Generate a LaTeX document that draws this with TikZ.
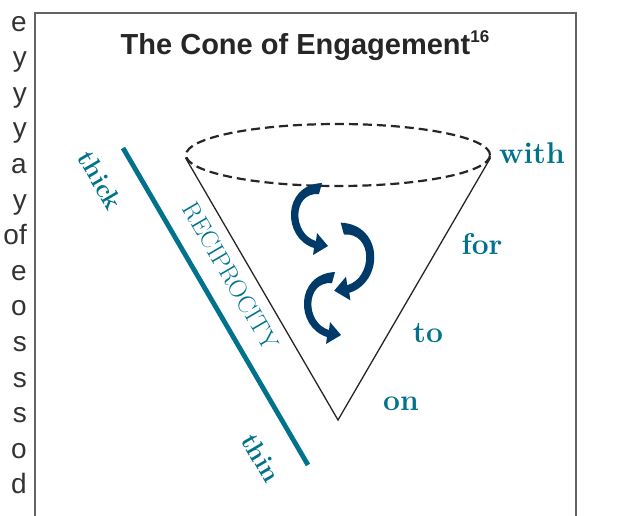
\documentclass[tikz,border=0pt]{standalone}
\usepackage{fontspec}
\newfontfamily\arialfont{Liberation Sans}
\usetikzlibrary{shapes.geometric}

\definecolor{recipteal}{RGB}{0,114,140}
\definecolor{swooshblue}{RGB}{0,58,105}
\definecolor{framegray}{RGB}{100,100,100}

\tikzset{
  rungtext/.style={text=recipteal, inner sep=0pt, font=\fontsize{30}{31}\selectfont\bfseries},
  scalelabel/.style={text=recipteal, inner sep=0pt, rotate=-59.7, font=\fontsize{26}{27}\selectfont\bfseries},
  fragment/.style={text=black!80, inner sep=0pt, anchor=base east, font=\arialfont\fontsize{28}{34}\selectfont},
  swoosh/.pic={
    \fill[swooshblue] (4,-5) .. controls (-36,-3) and (-36,50) .. (-4,60)
      -- (-5,67) -- (10,58) -- (-1,45) -- (-2,53)
      .. controls (-26,46) and (-26,4) .. (1,6) -- cycle;
  }
}

\begin{document}
\begin{tikzpicture}[x=1pt, y=-1pt]
  \useasboundingbox (0,0) rectangle (628,515);

  % cut text of the page column
  \foreach \ch [count=\i from 0] in {e,y,y,y,a,y,of,e,o,s,s,s,o,d}
    \node[fragment] (frag\i) at (27, 31+35.6*\i) {\ch};

  % frame and title
  \draw[framegray, line width=1.5] (35,520) |- (576,13) -- (576,520);
  \node[text=black!85, font=\arialfont\bfseries\fontsize{29}{30}\selectfont] (title) at (305,46)
    {The Cone of Engagement\raisebox{0.42em}{\fontsize{17}{17}\selectfont 16}};

  % cone
  \node[ellipse, draw=black!85, line width=2.2, dash pattern=on 9pt off 5pt, inner sep=0pt,
    minimum width=304pt, minimum height=62pt] (rim) at (338,155) {};
  \coordinate (apex) at (338,420);
  \draw[black!85, line width=1.3] (rim.181) -- (apex) -- (rim.359);

  \pic at (318,188) {swoosh};
  \pic[xscale=-1, scale=1.08] at (345,228) {swoosh};
  \pic at (331,277) {swoosh};

  \node[rungtext] (with) at (532,153) {with};
  \node[rungtext] (for) at (482,244) {for};
  \node[rungtext] (to) at (428,333) {to};
  \node[rungtext] (on) at (401,404) {on};

  % reciprocity scale
  \coordinate (thickend) at (123,148);
  \coordinate (thinend) at (308,465);
  \draw[recipteal, line width=4.8] (thickend) -- (thinend);
  \node[scalelabel] (thick) at (100,180) {thick};
  \node[scalelabel] (thin) at (261,458) {thin};
  \node[scalelabel, font=\fontsize{25}{27}\selectfont] (recip) at (231,276) {RECIPROCITY};
\end{tikzpicture}
\end{document}
